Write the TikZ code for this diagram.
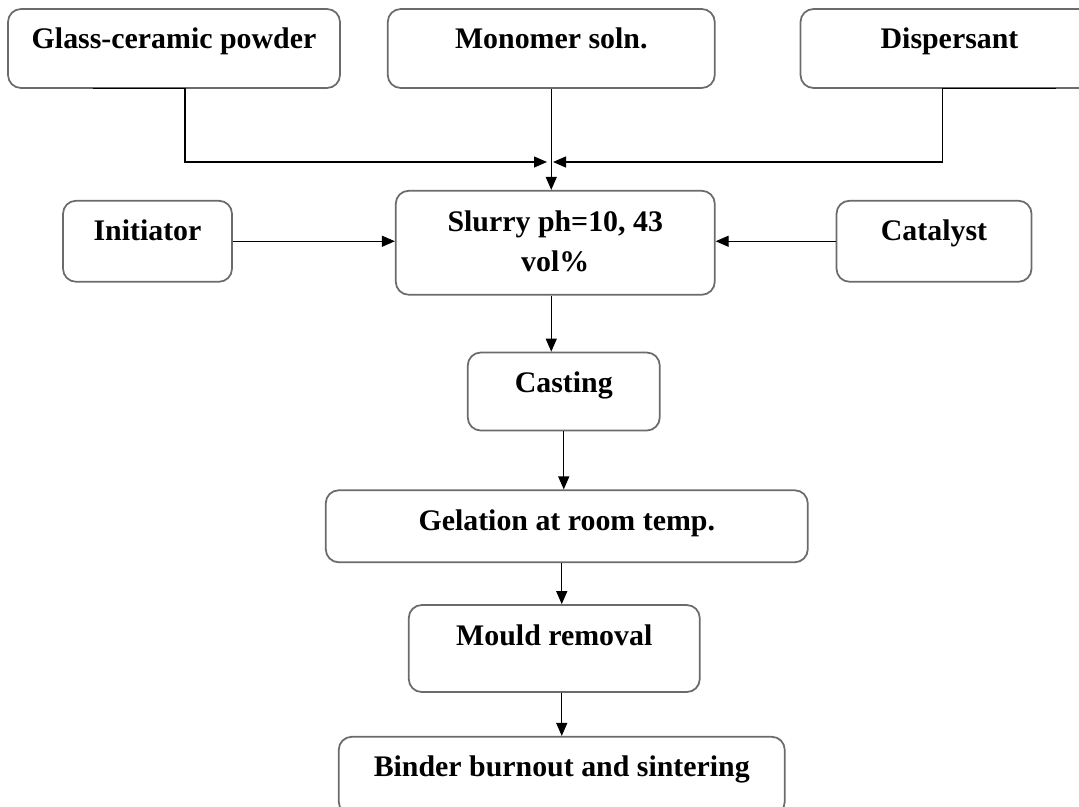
\documentclass[tikz,border=0pt]{standalone}
\usepackage{fontspec}
\setmainfont{Liberation Serif}
\usepackage{tikz}
\usetikzlibrary{arrows.meta, positioning}
\definecolor{boxline}{gray}{0.42}

\begin{document}
\begin{tikzpicture}[
        stagebox/.style={draw=boxline, line width=1pt, rounded corners=0.26cm, inner sep=0pt, text height=0.8cm, align=center, font=\fontsize{17}{22.8}\selectfont\bfseries},
        arrow/.style={-{Triangle[length=0.26cm, width=0.22cm]}, line width=0.7pt}
    ]
        \useasboundingbox (0,0) rectangle (21.58,-16.14);
        \clip (0,0) rectangle (21.58,-16.14);

        \node (glass) [stagebox, minimum width=6.64cm, text depth=0.78cm] at (3.48,-0.97) {Glass-ceramic powder};
        \node (monomer) [stagebox, minimum width=6.54cm, text depth=0.78cm, right=0.92cm of glass] {Monomer soln.};
        \node (disp) [stagebox, minimum width=5.96cm, text depth=0.78cm, right=1.68cm of monomer] {Dispersant};

        \node (slurry) [stagebox, minimum width=6.38cm, text height=1.62cm, text depth=0.46cm, below=2.02cm of monomer, xshift=0.08cm] {Slurry ph=10, 43 \\ vol\%};
        \node (initiator) [stagebox, minimum width=3.38cm, text depth=0.82cm, left=3.24cm of slurry, yshift=0.03cm] {Initiator};
        \node (catalyst) [stagebox, minimum width=3.9cm, text depth=0.82cm, right=2.4cm of slurry, yshift=0.03cm] {Catalyst};

        \node (casting) [stagebox, minimum width=3.84cm, text depth=0.76cm, below=1.12cm of slurry, xshift=0.17cm] {Casting};
        \node (gelation) [stagebox, minimum width=9.64cm, text depth=0.64cm, below=1.16cm of casting, xshift=0.06cm] {Gelation at room temp.};
        \node (mould) [stagebox, minimum width=5.82cm, text depth=0.94cm, below=0.82cm of gelation, xshift=-0.25cm] {Mould removal};
        \node (binder) [stagebox, minimum width=8.92cm, text depth=0.76cm, below=0.86cm of mould, xshift=0.15cm] {Binder burnout and sintering};

        \coordinate (mergeL) at (10.94,-3.24);
        \coordinate (mergeR) at (11.06,-3.24);

        \draw [arrow] ([xshift=-1.62cm]glass.south) -- ([xshift=0.22cm]glass.south) |- (mergeL);
        \draw [arrow] ([xshift=2.12cm]disp.south) -- ([xshift=-0.14cm]disp.south) |- (mergeR);
        \draw [arrow] (monomer.south) -- (monomer.south |- slurry.north);
        \draw [arrow] (initiator.east) -- (initiator.east -| slurry.west);
        \draw [arrow] (catalyst.west) -- (catalyst.west -| slurry.east);
        \draw [arrow] (slurry.south -| monomer.south) -- (monomer.south |- casting.north);
        \draw [arrow] (casting.south) -- (casting.south |- gelation.north);
        \draw [arrow] ([xshift=-0.1cm]gelation.south) -- ([xshift=-0.1cm]gelation.south |- mould.north);
        \draw [arrow] (binder.north |- mould.south) -- (binder.north);
    \end{tikzpicture}
\end{document}
